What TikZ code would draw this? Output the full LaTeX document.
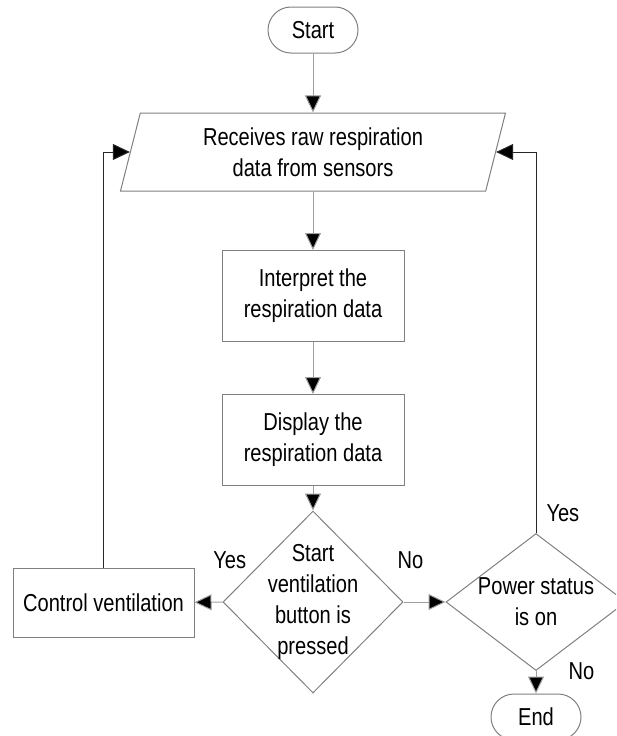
\documentclass[tikz,border=0pt]{standalone}
\usepackage{fontspec}
\setmainfont{Liberation Sans}[FakeStretch=0.82]
\usepackage{tikz}
\usetikzlibrary{shapes.geometric, arrows.meta, positioning}

\definecolor{boxgray}{gray}{0.5}
\definecolor{flowgray}{gray}{0.62}

\begin{document}
\begin{tikzpicture}[x=1pt, y=-1pt,
    every node/.style={font=\fontsize{24.5}{31}\selectfont, inner sep=0pt, align=center},
    terminal/.style={draw=boxgray, line width=1pt, rounded corners=23pt, minimum width=90pt, minimum height=46pt},
    process/.style={draw=boxgray, line width=1pt, minimum width=182pt, minimum height=91pt},
    iobox/.style={draw=boxgray, line width=1pt, shape=trapezium, trapezium left angle=68, trapezium right angle=112, trapezium stretches body, minimum width=385pt, minimum height=78pt},
    decision/.style={draw=boxgray, line width=1pt, shape=diamond, minimum width=180pt},
    flow/.style={draw=flowgray, line width=1pt, -{Triangle[length=17pt, width=16pt, fill=black]}},
    loopback/.style={draw=black!85, line width=1pt, -{Triangle[length=17pt, width=16pt, fill=black]}},
    lbl/.style={font=\fontsize{24.5}{31}\selectfont}
]
            \clip (0,0) rectangle (616,736);

            \node[terminal] (start) at (313, 30) {Start};
            \node[iobox] (recv) at (313, 152) {Receives raw respiration\\data from sensors};
            \node[process] (interp) at (313, 296) {Interpret the\\respiration data};
            \node[process] (disp) at (313, 440) {Display the\\respiration data};
            \node[decision, inner sep=-14pt, minimum height=182pt] (press) at (313, 602) {Start\\ventilation\\button is\\pressed};
            \node[process, minimum width=181pt, minimum height=69pt] (ctrl) at (103.5, 602.5) {Control ventilation};
            \node[decision, aspect=1.31, inner sep=-4pt, minimum height=137pt] (power) at (536, 602) {Power status\\is on};
            \node[terminal] (stop) at (536, 717) {End};

            \draw[flow] (start) -- (recv);
            \draw[flow] (recv) -- (interp);
            \draw[flow] (interp) -- (disp);
            \draw[flow] (disp) -- (press);

            \draw[flow] (press) -- node[lbl, pos=0, above=33pt, xshift=7pt]{Yes} (ctrl);
            \draw[flow] (press) -- node[lbl, pos=0, above=33pt, xshift=7pt]{No} (power);
            \draw[flow] (power) -- node[lbl, pos=0, right=32pt]{No} (stop);

            \draw[loopback] (ctrl) |- (recv.left side);
            \draw[loopback] (power) |- node[lbl, pos=0, above right=11pt and 10pt]{Yes} (recv.right side);

\end{tikzpicture}
\end{document}
